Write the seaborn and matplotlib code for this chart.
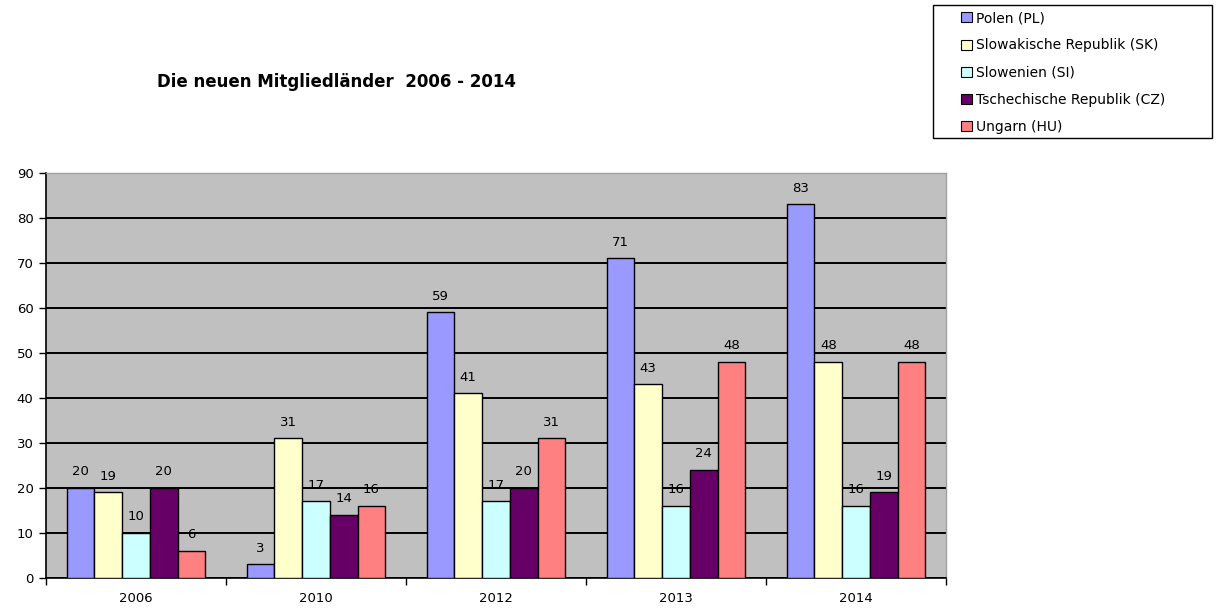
import matplotlib
matplotlib.use("Agg")
import matplotlib.pyplot as plt
import seaborn as sns
import pandas as pd
from matplotlib.patches import Patch, Rectangle
from matplotlib.ticker import FixedLocator

years = ["2006", "2010", "2012", "2013", "2014"]
countries = ["Polen (PL)", "Slowakische Republik (SK)", "Slowenien (SI)",
             "Tschechische Republik (CZ)", "Ungarn (HU)"]
polen = [20, 3, 59, 71, 83]
slowakei = [19, 31, 41, 43, 48]
slowenien = [10, 17, 17, 16, 16]
tschechien = [20, 14, 20, 24, 19]
ungarn = [6, 16, 31, 48, 48]
colors = ["#9999FF", "#FFFFCC", "#CCFFFF", "#660066", "#FF8080"]

series = [polen, slowakei, slowenien, tschechien, ungarn]
df = pd.DataFrame(
    [(y, c, v) for c, vals in zip(countries, series) for y, v in zip(years, vals)],
    columns=["Jahr", "Land", "Wert"],
)

sns.set_theme(style="white")
plt.rcParams["font.family"] = ["DejaVu Sans"]
plt.rcParams["text.color"] = "black"
plt.rcParams["xtick.color"] = "black"
plt.rcParams["ytick.color"] = "black"

fig = plt.figure(figsize=(12.16, 6.13), dpi=100)
ax = fig.add_axes([0.0378, 0.0571, 0.7402, 0.6609])
ax.set_facecolor("#C0C0C0")

sns.barplot(data=df, x="Jahr", y="Wert", hue="Land", hue_order=countries,
            order=years, palette=colors, width=0.77, gap=0,
            edgecolor="black", linewidth=1.0, saturation=1, ax=ax,
            legend=False, zorder=3)

ax.set_ylim(0, 90)
ax.set_xlim(-0.5, len(years) - 0.5)
ax.set_yticks(range(0, 91, 10))
ax.yaxis.grid(True, color="black", linewidth=1.4, zorder=1)
ax.set_axisbelow(True)
ax.set_xlabel("")
ax.set_ylabel("")

for cont in ax.containers:
    ax.bar_label(cont, padding=7, fontsize=9.5, color="black")

ax.tick_params(axis="y", direction="out", length=5, width=1, color="black",
               labelsize=9.5, left=True, pad=4, labelcolor="black")
ax.tick_params(axis="x", which="major", length=0, labelsize=9.5, pad=10,
               labelcolor="black")
ax.xaxis.set_minor_locator(FixedLocator([i - 0.5 for i in range(len(years) + 1)]))
ax.tick_params(axis="x", which="minor", direction="out", length=5, width=1,
               color="black", bottom=True)

for side in ["left", "bottom"]:
    ax.spines[side].set_color("black")
    ax.spines[side].set_linewidth(1.2)
for side in ["top", "right"]:
    ax.spines[side].set_color("#A0A0A0")
    ax.spines[side].set_linewidth(1.0)

fig.text(0.129, 0.866, "Die neuen Mitgliedländer  2006 - 2014",
         fontsize=12, fontweight="bold", ha="left", va="center", color="black")

# legend box: frame drawn separately so the entries sit indented inside it
fig.patches.append(Rectangle((933 / 1216, 1 - 138 / 613), 279 / 1216, 133 / 613,
                             transform=fig.transFigure, facecolor="white",
                             edgecolor="black", linewidth=1.0, zorder=0))
handles = [Patch(facecolor=c, edgecolor="black", linewidth=0.8, label=l)
           for c, l in zip(colors, countries)]
leg = fig.legend(handles=handles, loc="upper left",
                 bbox_to_anchor=(955 / 1216, 1 - 5 / 613),
                 fontsize=10, frameon=False,
                 handlelength=0.75, handleheight=0.75, handletextpad=0.3,
                 borderpad=0.45, labelspacing=0.95, borderaxespad=0)

fig.savefig("out.png", dpi=100)
